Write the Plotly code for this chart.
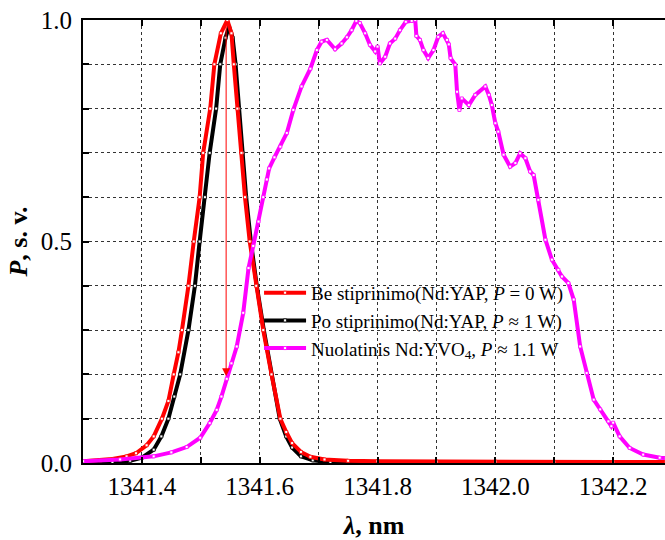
import plotly.graph_objects as go

# Spectra: wavelength (nm) and normalised power (a.u.)
red_wl = [1341.30, 1341.33, 1341.35, 1341.374, 1341.39, 1341.408, 1341.42, 1341.434,
          1341.445, 1341.454, 1341.462, 1341.468, 1341.479, 1341.488, 1341.498, 1341.504,
          1341.516, 1341.523, 1341.534, 1341.545, 1341.552, 1341.556, 1341.562, 1341.569,
          1341.575, 1341.583, 1341.594, 1341.606, 1341.620, 1341.635, 1341.645, 1341.655,
          1341.670, 1341.686, 1341.710, 1341.750, 1341.800, 1341.900, 1342.000, 1342.100,
          1342.200, 1342.290]
red_p = [0.004, 0.006, 0.009, 0.015, 0.022, 0.040, 0.060, 0.100,
         0.140, 0.200, 0.250, 0.300, 0.400, 0.500, 0.600, 0.700,
         0.800, 0.900, 0.970, 1.000, 0.970, 0.900, 0.800, 0.700,
         0.600, 0.500, 0.400, 0.300, 0.200, 0.100, 0.070, 0.045,
         0.025, 0.014, 0.008, 0.005, 0.004, 0.003, 0.003, 0.002,
         0.002, 0.002]

black_wl = [1341.30, 1341.35, 1341.38, 1341.40, 1341.42, 1341.433, 1341.445, 1341.455,
            1341.465, 1341.479, 1341.490, 1341.498, 1341.507, 1341.515, 1341.526, 1341.533,
            1341.542, 1341.548, 1341.554, 1341.559, 1341.565, 1341.571, 1341.577, 1341.585,
            1341.595, 1341.607, 1341.620, 1341.634, 1341.645, 1341.655, 1341.670, 1341.690,
            1341.720, 1341.800, 1342.000, 1342.290]
black_p = [0.001, 0.002, 0.005, 0.012, 0.030, 0.060, 0.100, 0.150,
           0.200, 0.300, 0.400, 0.500, 0.600, 0.700, 0.800, 0.900,
           0.960, 0.985, 0.960, 0.900, 0.800, 0.700, 0.600, 0.500,
           0.400, 0.300, 0.200, 0.100, 0.060, 0.035, 0.015, 0.006,
           0.002, 0.001, 0.001, 0.001]

mag_wl = [1341.300, 1341.363, 1341.420, 1341.450, 1341.476, 1341.499, 1341.515, 1341.527,
          1341.535, 1341.544, 1341.552, 1341.561, 1341.572, 1341.581, 1341.589, 1341.598,
          1341.606, 1341.612, 1341.616, 1341.625, 1341.635, 1341.646, 1341.657, 1341.671,
          1341.686, 1341.697, 1341.705, 1341.714, 1341.728, 1341.739, 1341.748, 1341.756,
          1341.764, 1341.770, 1341.779, 1341.787, 1341.796, 1341.800, 1341.804, 1341.813,
          1341.821, 1341.830, 1341.838, 1341.848, 1341.858, 1341.864, 1341.866, 1341.872,
          1341.878, 1341.886, 1341.895, 1341.903, 1341.911, 1341.918, 1341.921, 1341.924,
          1341.932, 1341.935, 1341.939, 1341.943, 1341.955, 1341.966, 1341.983, 1341.989,
          1341.994, 1342.000, 1342.005, 1342.014, 1342.025, 1342.034, 1342.042, 1342.051,
          1342.059, 1342.065, 1342.073, 1342.085, 1342.096, 1342.107, 1342.113, 1342.124,
          1342.133, 1342.144, 1342.155, 1342.167, 1342.178, 1342.192, 1342.197, 1342.200,
          1342.211, 1342.228, 1342.251, 1342.279, 1342.290]
mag_p = [0.004, 0.008, 0.015, 0.024, 0.036, 0.057, 0.090, 0.120,
         0.150, 0.190, 0.225, 0.263, 0.339, 0.440, 0.490, 0.545,
         0.600, 0.640, 0.665, 0.690, 0.714, 0.745, 0.797, 0.850,
         0.890, 0.932, 0.951, 0.955, 0.934, 0.947, 0.961, 0.977,
         0.998, 0.993, 0.970, 0.944, 0.929, 0.940, 0.902, 0.917,
         0.947, 0.958, 0.977, 0.996, 0.998, 1.000, 0.964, 0.955,
         0.932, 0.914, 0.932, 0.962, 0.970, 0.955, 0.945, 0.914,
         0.899, 0.838, 0.797, 0.823, 0.808, 0.831, 0.850, 0.831,
         0.808, 0.767, 0.748, 0.696, 0.669, 0.677, 0.699, 0.688,
         0.658, 0.650, 0.594, 0.504, 0.459, 0.436, 0.421, 0.406,
         0.369, 0.263, 0.203, 0.143, 0.121, 0.094, 0.083, 0.091,
         0.060, 0.034, 0.019, 0.012, 0.011]

# Red arrow marking the gain-induced drop at the seed peak
arrow_wl = 1341.543
arrow_from = 1.0
arrow_to = 0.196

x_ticks = [1341.3, 1341.4, 1341.5, 1341.6, 1341.7, 1341.8, 1341.9, 1342.0, 1342.1, 1342.2]
x_labels = ["", "1341.4", "", "1341.6", "", "1341.8", "", "1342.0", "", "1342.2"]
y_ticks = [0.0, 0.1, 0.2, 0.3, 0.4, 0.5, 0.6, 0.7, 0.8, 0.9, 1.0]
y_labels = ["0.0", "", "", "", "", "0.5", "", "", "", "", "1.0"]

names = [
    "Be stiprinimo(Nd:YAP, <i>P</i> = 0 W)",
    "Po stiprinimo(Nd:YAP, <i>P</i> ≈ 1 W)",
    "Nuolatinis Nd:YVO<sub>4</sub>, <i>P</i> ≈ 1.1 W",
]

FONT = "Liberation Serif, Times New Roman, serif"

fig = go.Figure()


def add_series(x, y, name, color, rank):
    fig.add_trace(go.Scatter(
        x=x, y=y, name=name, mode="lines+markers",
        line=dict(color=color, width=4),
        marker=dict(symbol="square", size=3, color="white",
                    line=dict(color=color, width=0.8)),
        legendrank=rank,
    ))


add_series(black_wl, black_p, names[1], "black", 2)
add_series(red_wl, red_p, names[0], "#ff0000", 1)
add_series(mag_wl, mag_p, names[2], "#ff00ff", 3)

fig.add_annotation(
    x=arrow_wl, y=arrow_to, ax=arrow_wl, ay=arrow_from,
    xref="x", yref="y", axref="x", ayref="y",
    showarrow=True, arrowhead=2, arrowsize=1.6, arrowwidth=1,
    arrowcolor="#ff0000", text="",
)

grid = dict(showgrid=True, gridcolor="#333333", gridwidth=1, griddash="dot")

fig.update_xaxes(
    range=[1341.3, 1342.288], tickmode="array", tickvals=x_ticks, ticktext=x_labels,
    ticks="inside", ticklen=6, tickwidth=1.5, tickcolor="black",
    showline=True, linecolor="black", linewidth=2, mirror="ticks",
    zeroline=False, tickfont=dict(family=FONT, size=25, color="black"),
    title=dict(text="<b><i>λ</i>, nm</b>", font=dict(family=FONT, size=26, color="black"),
               standoff=18),
    **grid,
)
fig.update_yaxes(
    range=[0, 1.0], tickmode="array", tickvals=y_ticks, ticktext=y_labels,
    ticks="inside", ticklen=6, tickwidth=1.5, tickcolor="black",
    showline=True, linecolor="black", linewidth=2,
    zeroline=False, tickfont=dict(family=FONT, size=25, color="black"),
    ticklabelstandoff=4,
    title=dict(text="<b><i>P</i>, s. v.</b>", font=dict(family=FONT, size=26, color="black"),
               standoff=6),
    **grid,
)

fig.update_layout(
    width=665, height=540,
    margin=dict(l=83, r=0, t=20, b=77),
    paper_bgcolor="white", plot_bgcolor="white",
    font=dict(family=FONT, color="black"),
    legend=dict(
        x=0.3025, y=0.427, xanchor="left", yanchor="top",
        bgcolor="rgba(0,0,0,0)", borderwidth=0,
        font=dict(family=FONT, size=19, color="black"),
        itemwidth=42, tracegroupgap=0,
    ),
    showlegend=True,
)

fig.write_html("out.html")
